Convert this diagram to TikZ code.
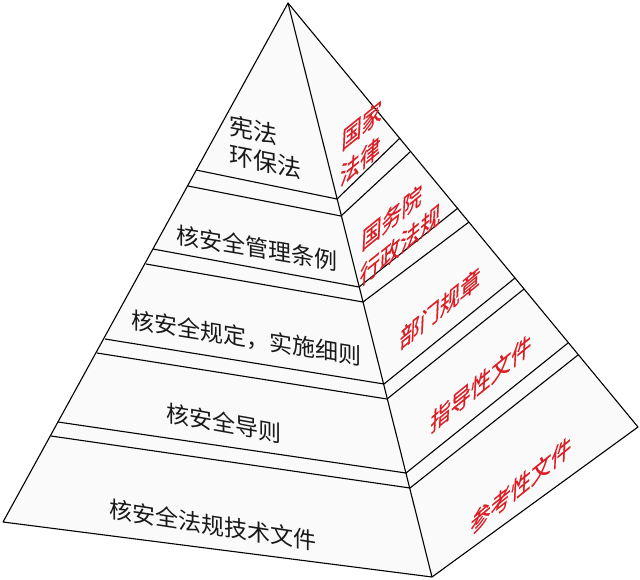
\documentclass[tikz,border=0pt]{standalone}
\usepackage{fontspec}
\newfontfamily\cjk{Noto Sans CJK SC}
\newfontfamily\cjkred[FakeBold=0.6]{Noto Sans CJK SC}
\definecolor{redtext}{RGB}{220,30,36}
\definecolor{facefill}{RGB}{250,250,250}
\begin{document}
\begin{tikzpicture}[x=1pt,y=-1pt,
  edge/.style={line width=1.1pt,black,line join=round},
  fronttext/.style={font=\cjk\fontsize{23}{29}\selectfont,inner sep=0pt,align=left,text=black!90},
  sidetext/.style={font=\cjkred\fontsize{24}{34}\selectfont,inner sep=0pt,align=left,text=redtext,
    cm={0.84,0.68,0.05,1.05,(0,0)}}]
\useasboundingbox (0,0) rectangle (640,579);
\fill[white] (0,0) rectangle (640,579);
% corners
\coordinate (A) at (288,3);
\coordinate (L) at (3,522);
\coordinate (C) at (432,577);
\coordinate (R) at (638,427);
% band points: left edge, centre edge, right edge
\coordinate (l1) at (196,170); \coordinate (c1) at (337,199); \coordinate (r1) at (400,138);
\coordinate (l2) at (188,186); \coordinate (c2) at (341,216); \coordinate (r2) at (410,152);
\coordinate (l3) at (153,249); \coordinate (c3) at (359,287); \coordinate (r3) at (458,208);
\coordinate (l4) at (146,264); \coordinate (c4) at (363,302); \coordinate (r4) at (469,222);
\coordinate (l5) at (105,339); \coordinate (c5) at (384,384); \coordinate (r5) at (515,278);
\coordinate (l6) at (97,353);  \coordinate (c6) at (387,399); \coordinate (r6) at (524,289);
\coordinate (l7) at (58,422);  \coordinate (c7) at (406,473); \coordinate (r7) at (568,343);
\coordinate (l8) at (51,436);  \coordinate (c8) at (410,488); \coordinate (r8) at (578,355);
% faces
\fill[facefill] (A) -- (L) -- (C) -- cycle;
\fill[facefill] (A) -- (C) -- (R) -- cycle;
% band lines
\foreach \i in {1,...,8} {
  \draw[edge] (l\i) -- (c\i) -- (r\i);
}
% outline
\draw[edge] (A) -- (L) -- (C) -- (R) -- cycle;
\draw[edge] (A) -- (C);
% front texts
\node[fronttext,font=\cjk\fontsize{24}{29}\selectfont,yslant=-0.2] (t1) at (265,147) {宪法\\环保法};
\node[fronttext,yslant=-0.17] (t2) at (257,248) {核安全管理条例};
\node[fronttext,yslant=-0.16] (t3) at (246,338) {核安全规定，实施细则};
\node[fronttext,yslant=-0.18] (t4) at (224,423) {核安全导则};
\node[fronttext,yslant=-0.155] (t5) at (213,525) {核安全法规技术文件};
% side texts
\node[sidetext] (s1) at (361,143) {国家\\法律};
\node[sidetext] (s2) at (401,227) {国务院\\行政法规};
\node[sidetext] (s3) at (440,308) {部门规章};
\node[sidetext] (s4) at (481,383) {指导性文件};
\node[sidetext] (s5) at (521,485) {参考性文件};
\end{tikzpicture}
\end{document}
